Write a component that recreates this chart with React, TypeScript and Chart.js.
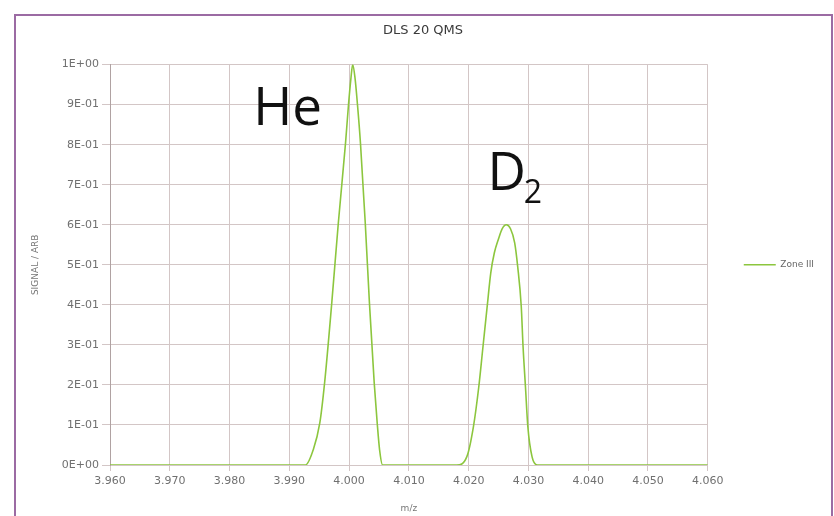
import React, { useEffect, useRef } from 'react';
import { Chart, registerables } from 'chart.js';

Chart.register(...registerables);

const chartTitle = 'DLS 20 QMS';
const seriesName = 'Zone III';
const xAxisTitle = 'm/z';
const yAxisTitle = 'SIGNAL / ARB';

const mz = [
  3.96, 3.9927, 3.994, 3.9951, 3.9959, 3.9971, 3.9982, 3.9994, 3.9999, 4.0003,
  4.0006, 4.001, 4.0014, 4.0019, 4.0027, 4.0034, 4.0042, 4.0047, 4.0051, 4.0056,
  4.018, 4.0197, 4.0208, 4.0217, 4.0224, 4.0231, 4.0237, 4.0243, 4.025, 4.0256,
  4.0263, 4.027, 4.0277, 4.0282, 4.0288, 4.0291, 4.0295, 4.0299, 4.0306, 4.0315,
  4.06,
];
const signal = [
  0, 0, 0.038, 0.105, 0.205, 0.405, 0.605, 0.804, 0.9, 0.965,
  1.0, 0.965, 0.9, 0.804, 0.605, 0.405, 0.205, 0.105, 0.038, 0,
  0, 0.021, 0.096, 0.196, 0.296, 0.396, 0.48, 0.53, 0.565, 0.59,
  0.6, 0.59, 0.555, 0.496, 0.396, 0.296, 0.196, 0.096, 0.021, 0,
  0,
];

const xTickValues = [3.96, 3.97, 3.98, 3.99, 4.0, 4.01, 4.02, 4.03, 4.04, 4.05, 4.06];
const xTickLabels = ['3.960', '3.970', '3.980', '3.990', '4.000', '4.010', '4.020', '4.030', '4.040', '4.050', '4.060'];
const yTickValues = [0, 0.1, 0.2, 0.3, 0.4, 0.5, 0.6, 0.7, 0.8, 0.9, 1.0];
const yTickLabels = ['0E+00', '1E-01', '2E-01', '3E-01', '4E-01', '5E-01', '6E-01', '7E-01', '8E-01', '9E-01', '1E+00'];

// Peak annotations, anchored in data units (left edge, text baseline)
const peakLabelTexts = ['He', 'D', '2'];
const peakLabelX = [3.98395, 4.02315, 4.0292];
const peakLabelY = [0.85, 0.6875, 0.655];
const peakLabelSizes = [53, 53, 32];

const peakLabelPlugin = {
  id: 'peakLabels',
  afterDatasetsDraw(chart: any) {
    const { ctx, scales } = chart;
    ctx.save();
    ctx.fillStyle = '#111111';
    ctx.textAlign = 'left';
    ctx.textBaseline = 'alphabetic';
    peakLabelTexts.forEach((t, i) => {
      ctx.font = `${peakLabelSizes[i]}px "Open Sans"`;
      ctx.fillText(t, scales.x.getPixelForValue(peakLabelX[i]), scales.y.getPixelForValue(peakLabelY[i]));
    });
    ctx.restore();
  },
};

const gridColor = '#d3c6c6';
const tickFont = { family: 'DejaVu Sans', size: 11 };
const tickColor = '#707070';

export default function App() {
  const canvasRef = useRef<HTMLCanvasElement | null>(null);

  useEffect(() => {
    if (!canvasRef.current) return;
    const chart = new Chart(canvasRef.current, {
      type: 'line',
      data: {
        datasets: [
          {
            label: seriesName,
            data: mz.map((x, i) => ({ x, y: signal[i] })),
            borderColor: '#8cc63e',
            backgroundColor: '#8cc63e',
            borderWidth: 1.6,
            pointRadius: 0,
            fill: false,
            cubicInterpolationMode: 'monotone',
          },
        ],
      },
      options: {
        responsive: false,
        animation: false,
        layout: { padding: { left: 22, right: 10, top: 0, bottom: 0 } },
        plugins: {
          title: {
            display: true,
            text: chartTitle,
            color: '#3a3a3a',
            font: { family: 'DejaVu Sans', size: 13, weight: 'normal' },
            padding: { top: 23, bottom: 26 },
          },
          legend: {
            position: 'right',
            fullSize: false,
            labels: {
              usePointStyle: true,
              pointStyle: 'line',
              pointStyleWidth: 32,
              padding: 36,
              color: '#666666',
              font: { family: 'DejaVu Sans', size: 9 },
            },
          },
          tooltip: { enabled: false },
        },
        scales: {
          x: {
            type: 'linear',
            min: 3.96,
            max: 4.06,
            afterBuildTicks: (scale: any) => {
              scale.ticks = xTickValues.map((v) => ({ value: v }));
            },
            afterFit: (scale: any) => {
              scale.height = 51;
            },
            ticks: {
              autoSkip: false,
              maxRotation: 0,
              padding: 4,
              color: tickColor,
              font: tickFont,
              callback: (_v: any, i: number) => xTickLabels[i],
            },
            grid: { color: gridColor, tickLength: 6, tickColor: gridColor },
            border: { color: gridColor },
            title: {
              display: true,
              text: xAxisTitle,
              color: '#777777',
              font: { family: 'DejaVu Sans', size: 9 },
              padding: { top: 0, bottom: 2 },
            },
          },
          y: {
            type: 'linear',
            min: 0,
            max: 1,
            afterBuildTicks: (scale: any) => {
              scale.ticks = yTickValues.map((v) => ({ value: v }));
            },
            afterFit: (scale: any) => {
              scale.width = 88;
            },
            ticks: {
              autoSkip: false,
              padding: 3,
              color: tickColor,
              font: tickFont,
              callback: (_v: any, i: number) => yTickLabels[i],
            },
            grid: { color: gridColor, tickLength: 8, tickColor: gridColor },
            border: { color: '#b0a2a2' },
            title: {
              display: true,
              text: yAxisTitle,
              color: '#777777',
              font: { family: 'DejaVu Sans', size: 9 },
              padding: { top: 8, bottom: 0 },
            },
          },
        },
      } as any,
      plugins: [peakLabelPlugin],
    });
    return () => chart.destroy();
  }, []);

  return (
    <div style={{ position: 'absolute', left: 0, top: 0, width: 834, height: 516, background: '#ffffff', overflow: 'hidden' }}>
      <canvas ref={canvasRef} width={834} height={516} style={{ position: 'absolute', left: 0, top: 0 }} />
      <div
        style={{
          position: 'absolute',
          left: 14,
          top: 14,
          width: 815,
          height: 520,
          borderLeft: '2px solid #9b6ba3',
          borderTop: '2px solid #9b6ba3',
          borderRight: '2px solid #9b6ba3',
          pointerEvents: 'none',
        }}
      />
    </div>
  );
}
